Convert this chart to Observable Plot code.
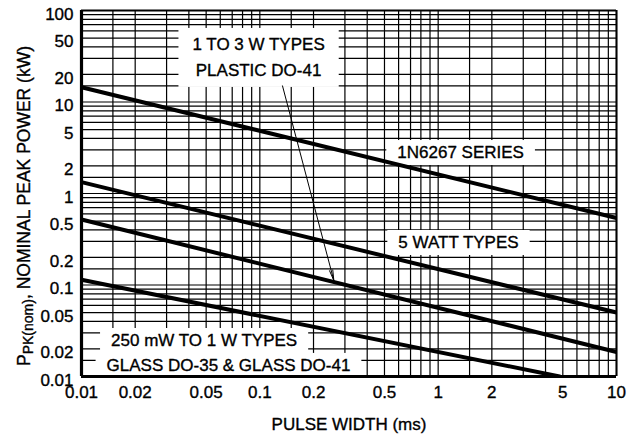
<!DOCTYPE html>
<html><head><meta charset="utf-8">
<script src="https://cdn.jsdelivr.net/npm/d3@7"></script>
<script src="https://cdn.jsdelivr.net/npm/@observablehq/plot@0.6"></script>
<style>
html,body{margin:0;padding:0;background:#fff;}
#chart{width:635px;height:440px;}
</style></head><body><div id="chart"></div>
<script>
// ---- data ----
const xTicks = [0.01, 0.02, 0.05, 0.1, 0.2, 0.5, 1, 2, 5, 10];
const yTicks = [0.01, 0.02, 0.05, 0.1, 0.2, 0.5, 1, 2, 5, 10, 20, 50, 100];
const gridSteps = [1, 1.5, 2, 3, 4, 5, 6, 7, 8, 9];
const seriesNames = ["1N6267 SERIES", "5 WATT TYPES", "1 TO 3 W TYPES PLASTIC DO-41", "250 mW TO 1 W TYPES GLASS"];
const seriesX = [[0.01, 10], [0.01, 10], [0.01, 10], [0.01, 4.8]];
const seriesY = [[14.5, 0.54], [1.33, 0.05], [0.52, 0.0185], [0.114, 0.01]];
const labelText = ["1 TO 3 W TYPES", "PLASTIC DO-41", "1N6267 SERIES", "5 WATT TYPES", "250 mW TO 1 W TYPES", "GLASS DO-35 & GLASS DO-41"];
const labelX = [0.0984, 0.0984, 1.336, 1.30, 0.0487, 0.0667];
const labelY = [42.5, 22.1, 2.8, 0.291, 0.0247, 0.0132];
const labelBox = ["a", "a", "b", "c", "d", "e"];
const arrowFrom = [0.134, 15];
const arrowTo = [0.26, 0.112];
const xTitle = "PULSE WIDTH (ms)";

// ---- build tables ----
const FONT = "'Liberation Sans', Arial, 'DejaVu Sans', sans-serif";
const lines = seriesNames.flatMap((s, i) => seriesX[i].map((x, j) => ({series: s, x, y: seriesY[i][j]})));
const xGrid = [0.01, 0.1, 1].flatMap(d => gridSteps.map(m => d * m)).concat([10]);
const yGrid = [0.01, 0.1, 1, 10].flatMap(d => gridSteps.map(m => d * m)).concat([100]);
const labels = labelText.map((t, i) => ({t, x: labelX[i], y: labelY[i], box: labelBox[i]}));
const arrows = [{x1: arrowFrom[0], y1: arrowFrom[1], x2: arrowTo[0], y2: arrowTo[1]}];
const fmt = d => String(d);
const ink = {fill: "#000", stroke: "#000", strokeWidth: 0.35};

const chart = Plot.plot({
  width: 635, height: 440,
  marginLeft: 81, marginRight: 19, marginTop: 10, marginBottom: 64,
  style: {fontFamily: FONT, fontSize: "17px", color: "#000", background: "#fff"},
  x: {type: "log", domain: [0.01, 10], axis: null},
  y: {type: "log", domain: [0.01, 100], axis: null},
  marks: [
    Plot.ruleX(xGrid, {stroke: "#000", strokeWidth: 1.2}),
    Plot.ruleY(yGrid, {stroke: "#000", strokeWidth: 1.2}),
    Plot.text(labels, {x: "x", y: "y", text: "t", fontSize: 17, ...ink}),
    Plot.line(lines, {x: "x", y: "y", z: "series", stroke: "#000", strokeWidth: 4, clip: true}),
    Plot.arrow(arrows, {x1: "x1", y1: "y1", x2: "x2", y2: "y2", stroke: "#000", strokeWidth: 1, headLength: 16, headAngle: 18, insetStart: 0, insetEnd: 0}),
    Plot.text(xTicks, {x: d => d, text: fmt, frameAnchor: "bottom", lineAnchor: "top", dy: 9, fontSize: 17, ...ink}),
    Plot.text(yTicks, {y: d => d, text: fmt, frameAnchor: "left", textAnchor: "end", dx: -8, dy: 4, fontSize: 17, ...ink}),
    Plot.text([xTitle], {text: d => d, frameAnchor: "bottom", dy: 48, lineAnchor: "middle", fontSize: 17, ...ink}),
    Plot.ruleX([10], {stroke: "#000", strokeWidth: 2}),
    Plot.ruleY([100], {stroke: "#000", strokeWidth: 2}),
    Plot.ruleX([0.01], {stroke: "#000", strokeWidth: 3.2}),
    Plot.ruleY([0.01], {stroke: "#000", strokeWidth: 3.2})
  ]
});
document.getElementById("chart").appendChild(chart);

// white boxes behind the annotation labels (derived from rendered text extents)
const svg = d3.select(chart);
const labelGroup = chart.querySelector('g[aria-label="text"]');
const svgRect = chart.getBoundingClientRect();
const boxes = new Map();
labelGroup.querySelectorAll("text").forEach((el, i) => {
  const r = el.getBoundingClientRect();
  const k = labels[i].box;
  const b = {k, x0: r.left - svgRect.left, x1: r.right - svgRect.left, y0: r.top - svgRect.top, y1: r.bottom - svgRect.top};
  if (boxes.has(k)) {
    const o = boxes.get(k);
    boxes.set(k, {k, x0: Math.min(o.x0, b.x0), x1: Math.max(o.x1, b.x1), y0: Math.min(o.y0, b.y0), y1: Math.max(o.y1, b.y1)});
  } else boxes.set(k, b);
});
const padX = k => (k === "a" ? 14 : 11);
const padY = k => (k === "a" ? 7 : 3);
const bg = document.createElementNS("http://www.w3.org/2000/svg", "g");
labelGroup.parentNode.insertBefore(bg, labelGroup);
d3.select(bg).selectAll("rect").data([...boxes.values()]).join("rect")
  .attr("x", d => d.x0 - padX(d.k)).attr("y", d => d.y0 - padY(d.k))
  .attr("width", d => d.x1 - d.x0 + 2 * padX(d.k)).attr("height", d => d.y1 - d.y0 + 2 * padY(d.k))
  .attr("fill", "#fff");

// rotated y-axis title with subscript
const yt = svg.append("text")
  .attr("transform", "translate(30,206) rotate(-90)")
  .attr("text-anchor", "middle")
  .attr("font-family", FONT).attr("font-size", 17.5)
  .attr("fill", "#000").attr("stroke", "#000").attr("stroke-width", 0.35);
yt.append("tspan").text("P");
yt.append("tspan").attr("font-size", 14).attr("dy", 3).text("PK(nom)");
yt.append("tspan").attr("dy", -3).text(", NOMINAL PEAK POWER (kW)");
</script>
</body></html>
